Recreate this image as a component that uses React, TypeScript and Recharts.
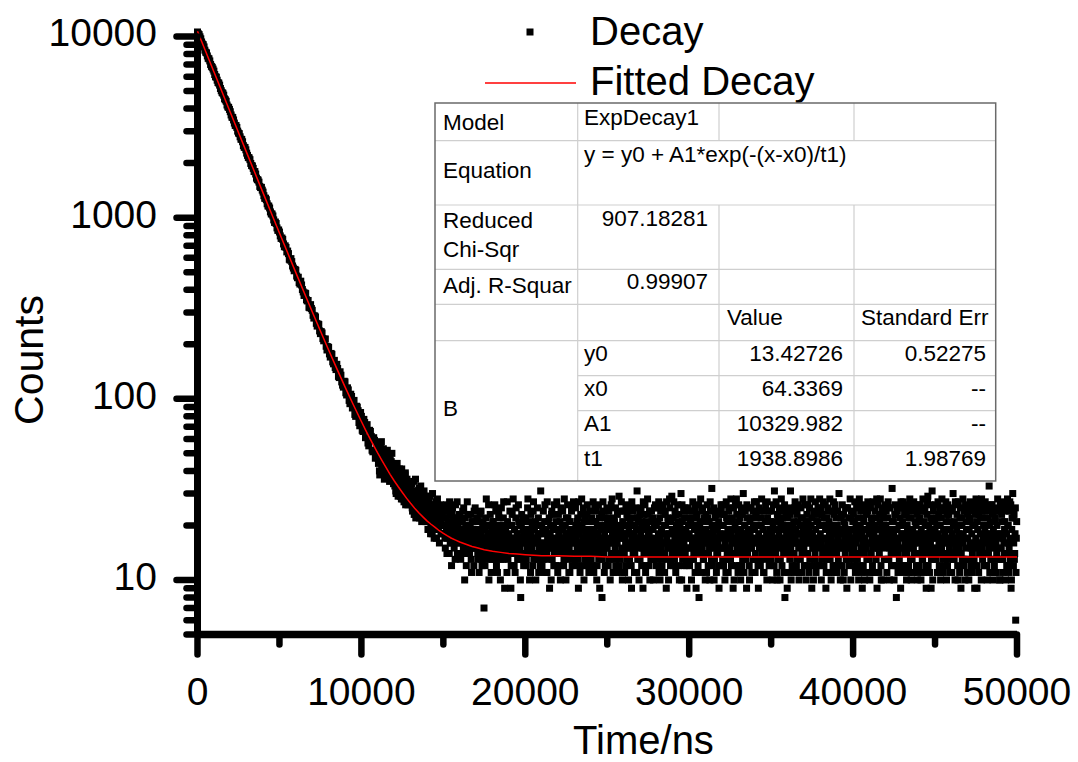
import React from 'react';
import { ComposedChart, Scatter, XAxis, YAxis } from 'recharts';

const FONT = '"Liberation Sans", Arial, sans-serif';

// measured counts on the fast part of the decay, every 100 ns from t = 0
const decayStep = 100;
const decayCounts = [
  10590, 10240, 9710, 9085, 8760, 8190, 7810, 7530, 7010, 6760,
  6440, 5990, 5738, 5530, 5163, 4902, 4745, 4471, 4186, 4060,
  3844, 3587, 3462, 3230, 3148, 2931, 2795, 2702, 2497, 2440,
  2271, 2149, 2090, 1938, 1871, 1796, 1652, 1611, 1488, 1470,
  1384, 1279, 1256, 1160, 1131, 1049, 1022, 941, 928, 851,
  833, 768, 759, 691, 685, 654, 589, 594, 541, 509,
  512, 466, 438, 446, 401, 372, 381, 347, 320, 331,
  308, 279, 283, 252, 257, 229, 231, 209, 214, 186,
  192, 170, 176, 156, 149, 155, 133, 141, 124, 116,
  124, 105, 112, 94, 103, 97, 82, 91, 86, 71,
  80, 66, 74, 69, 57, 67, 62, 51, 59, 48,
];
// the channels in between (t = 50, 150, 250 ...)
const decayCountsB = [
  10350, 9960, 9330, 9010, 8405, 8120, 7580, 7330, 6840, 6610,
  6170, 5965, 5570, 5390, 5020, 4862, 4530, 4389, 4085, 3958,
  3690, 3570, 3328, 3222, 3004, 2908, 2711, 2624, 2445, 2369,
  2207, 2138, 1992, 1929, 1798, 1741, 1623, 1571, 1466, 1419,
  1322, 1281, 1193, 1158, 1076, 1047, 972, 946, 878, 855,
  793, 772, 716, 699, 647, 633, 583, 572, 527, 518,
  476, 469, 430, 425, 389, 384, 352, 349, 318, 315,
  289, 287, 261, 259, 237, 235, 215, 213, 195, 194,
  177, 178, 160, 163, 145, 147, 131, 135, 119, 125,
  108, 115, 98, 106, 89, 98, 80, 90, 74, 84,
  67, 77, 61, 72, 55, 66, 52, 61, 47, 56,
];

// noisy background tail, every 40 ns from 11000 ns (25 per row = 1000 ns)
const tailStart = 11000;
const tailStep = 40;
const tailCounts = [
  52, 44, 49, 38, 55, 46, 41, 50, 43, 47, 36, 45, 51, 40, 44, 39, 48, 42, 35, 46, 41, 37, 44, 40, 34,
  39, 33, 42, 30, 36, 38, 29, 35, 41, 32, 34, 28, 37, 31, 36, 27, 33, 39, 30, 32, 35, 26, 31, 34, 29,
  33, 27, 30, 24, 28, 35, 25, 29, 22, 31, 26, 28, 23, 32, 27, 25, 29, 21, 26, 30, 24, 27, 22, 28, 25,
  27, 21, 25, 19, 23, 29, 20, 24, 18, 26, 22, 17, 25, 21, 23, 19, 28, 20, 22, 16, 24, 21, 18, 23, 20,
  24, 18, 22, 15, 20, 26, 17, 21, 19, 14, 23, 18, 20, 16, 25, 19, 17, 22, 13, 20, 18, 27, 16, 21, 19,
  22, 16, 19, 14, 21, 17, 25, 15, 18, 20, 12, 19, 16, 23, 17, 14, 20, 18, 11, 21, 16, 19, 24, 15, 17,
  19, 15, 21, 13, 17, 16, 23, 14, 18, 12, 20, 16, 7, 19, 15, 22, 17, 13, 18, 26, 14, 16, 20, 11, 17,
  16, 21, 13, 18, 15, 24, 12, 17, 19, 14, 22, 16, 10, 18, 15, 20, 13, 27, 17, 14, 19, 16, 11, 21, 15,
  18, 14, 20, 9, 16, 23, 15, 17, 12, 19, 16, 25, 14, 18, 13, 21, 17, 15, 8, 20, 16, 13, 22, 18, 14,
  17, 12, 19, 15, 28, 16, 14, 21, 11, 18, 15, 17, 24, 13, 19, 16, 10, 20, 14, 17, 22, 15, 18, 12, 16,
  20, 15, 13, 18, 16, 26, 14, 19, 11, 17, 21, 15, 9, 18, 16, 23, 13, 17, 20, 14, 16, 12, 19, 27, 15,
  14, 18, 16, 21, 12, 17, 15, 24, 19, 13, 16, 20, 10, 18, 14, 22, 17, 15, 11, 19, 16, 25, 13, 18, 17,
  16, 13, 20, 17, 15, 22, 9, 18, 14, 19, 16, 28, 12, 17, 21, 15, 13, 18, 16, 23, 14, 19, 11, 17, 15,
  19, 16, 12, 21, 17, 14, 25, 15, 18, 10, 20, 16, 13, 22, 17, 15, 19, 8, 16, 24, 14, 18, 12, 20, 16,
  15, 22, 17, 13, 19, 16, 26, 14, 18, 11, 17, 21, 15, 12, 20, 16, 18, 14, 29, 17, 13, 19, 15, 10, 18,
  17, 14, 20, 16, 12, 23, 18, 15, 19, 13, 21, 16, 9, 17, 24, 15, 18, 14, 20, 16, 11, 22, 17, 15, 19,
  13, 18, 16, 21, 15, 27, 14, 19, 17, 12, 20, 16, 23, 15, 18, 10, 17, 14, 21, 16, 19, 13, 25, 15, 17,
  20, 16, 14, 18, 11, 22, 17, 15, 19, 13, 16, 24, 18, 14, 20, 9, 17, 15, 21, 16, 28, 13, 18, 15, 19,
  16, 12, 19, 17, 23, 15, 18, 14, 21, 16, 10, 20, 15, 17, 26, 13, 18, 16, 22, 14, 19, 12, 17, 15, 20,
  18, 15, 21, 13, 17, 16, 24, 14, 19, 11, 17, 22, 15, 18, 16, 8, 20, 14, 17, 25, 15, 19, 13, 16, 21,
  14, 19, 16, 22, 12, 18, 15, 27, 17, 13, 20, 16, 18, 10, 15, 23, 17, 14, 19, 16, 21, 12, 18, 15, 24,
  17, 13, 20, 15, 18, 16, 11, 22, 14, 19, 17, 25, 15, 13, 18, 16, 21, 9, 17, 14, 20, 16, 28, 15, 18,
  15, 21, 17, 14, 19, 12, 23, 16, 18, 15, 20, 13, 17, 26, 14, 19, 16, 10, 18, 22, 15, 17, 13, 20, 16,
  19, 14, 17, 22, 16, 12, 18, 15, 24, 13, 20, 17, 15, 19, 11, 16, 21, 14, 18, 27, 15, 17, 12, 19, 16,
  13, 18, 16, 20, 15, 31, 17, 14, 19, 10, 16, 22, 18, 15, 13, 21, 17, 16, 24, 14, 19, 8, 17, 15, 20,
  16, 19, 14, 17, 23, 15, 18, 12, 20, 16, 14, 25, 17, 19, 13, 16, 21, 15, 11, 18, 16, 22, 14, 17, 19,
  15, 12, 18, 21, 16, 14, 26, 17, 19, 13, 16, 20, 9, 18, 15, 23, 17, 14, 19, 16, 12, 21, 17, 15, 28,
  18, 16, 13, 20, 17, 15, 22, 14, 19, 11, 17, 16, 24, 15, 18, 13, 20, 17, 14, 16, 27, 19, 15, 12, 18,
  14, 20, 17, 16, 12, 19, 15, 23, 18, 16, 10, 21, 17, 14, 19, 15, 25, 16, 13, 18, 17, 22, 15, 19, 16,
  17, 15, 21, 13, 18, 16, 26, 14, 19, 17, 12, 20, 15, 18, 9, 16, 22, 14, 17, 19, 15, 13, 24, 16, 18,
  16, 19, 14, 22, 17, 15, 11, 18, 16, 20, 13, 28, 17, 15, 19, 14, 21, 16, 10, 18, 17, 23, 15, 19, 13,
  20, 16, 18, 13, 17, 25, 15, 19, 14, 16, 21, 12, 18, 17, 15, 23, 8, 19, 16, 14, 20, 17, 15, 27, 18,
  15, 18, 12, 20, 16, 17, 23, 14, 19, 15, 11, 18, 16, 22, 17, 13, 19, 15, 26, 16, 14, 20, 17, 10, 18,
  16, 21, 14, 17, 19, 15, 13, 24, 18, 16, 20, 12, 17, 15, 29, 18, 14, 19, 16, 9, 21, 17, 15, 18, 13,
  19, 15, 17, 22, 14, 18, 16, 11, 20, 17, 15, 25, 13, 19, 16, 18, 14, 21, 17, 12, 16, 23, 15, 19, 17,
  14, 18, 16, 20, 13, 17, 27, 15, 19, 16, 10, 18, 15, 22, 17, 14, 20, 16, 18, 13, 24, 17, 15, 19, 11,
  17, 13, 19, 16, 21, 15, 18, 14, 25, 16, 12, 20, 17, 15, 9, 19, 16, 23, 14, 18, 16, 28, 15, 17, 20,
  16, 19, 14, 18, 12, 22, 17, 15, 20, 16, 13, 18, 26, 15, 19, 17, 11, 21, 16, 14, 18, 15, 24, 17, 10,
  18, 15, 21, 13, 17, 16, 19, 24, 14, 18, 12, 20, 16, 15, 27, 17, 9, 19, 14, 22, 16, 13, 18, 6, 17,
];
// the channels in between (t = 11020, 11060 ...)
const tailCountsB = [
  47, 55, 40, 50, 45, 58, 39, 48, 53, 42, 46, 37, 49, 44, 52, 38, 43, 47, 41, 36, 45, 50, 38, 42, 37,
  35, 40, 31, 37, 44, 33, 30, 38, 34, 29, 36, 41, 31, 28, 35, 33, 38, 26, 32, 36, 30, 34, 27, 33, 31,
  29, 34, 25, 31, 27, 23, 30, 36, 26, 28, 24, 31, 27, 22, 29, 33, 25, 28, 23, 26, 31, 24, 29, 21, 27,
  24, 19, 28, 22, 26, 18, 25, 21, 30, 23, 19, 24, 20, 27, 17, 22, 25, 19, 23, 21, 26, 18, 24, 20, 22,
  20, 25, 17, 22, 19, 14, 24, 18, 21, 27, 16, 20, 12, 23, 18, 21, 15, 19, 26, 17, 22, 14, 20, 18, 23,
  18, 13, 21, 17, 24, 15, 19, 10, 22, 16, 18, 27, 14, 20, 17, 15, 23, 13, 19, 16, 21, 12, 18, 25, 15,
  16, 22, 14, 19, 11, 18, 15, 24, 13, 17, 21, 15, 19, 12, 17, 28, 14, 20, 16, 10, 18, 23, 15, 19, 13,
  21, 14, 18, 26, 13, 17, 20, 11, 16, 23, 15, 19, 13, 25, 17, 14, 22, 16, 9, 18, 20, 15, 27, 13, 17,
  15, 24, 17, 12, 20, 16, 28, 14, 19, 11, 22, 15, 18, 13, 26, 16, 20, 10, 17, 23, 14, 19, 12, 21, 16,
  22, 13, 17, 25, 14, 19, 10, 18, 23, 15, 20, 12, 27, 16, 14, 21, 17, 13, 25, 18, 11, 20, 15, 31, 14,
  12, 19, 24, 15, 21, 11, 18, 14, 27, 16, 13, 22, 17, 20, 10, 24, 15, 19, 12, 26, 17, 14, 21, 16, 11,
  23, 15, 19, 10, 25, 14, 20, 17, 12, 28, 15, 18, 22, 13, 26, 16, 11, 21, 14, 19, 24, 12, 17, 27, 14,
  19, 25, 12, 21, 16, 13, 27, 18, 11, 23, 15, 20, 14, 25, 10, 19, 22, 16, 12, 26, 17, 21, 13, 24, 18,
  13, 22, 17, 27, 11, 19, 15, 21, 24, 12, 18, 26, 14, 9, 20, 16, 23, 13, 27, 17, 11, 22, 15, 19, 25,
  21, 12, 24, 16, 10, 20, 14, 28, 17, 22, 13, 19, 25, 11, 16, 23, 14, 20, 12, 24, 18, 27, 11, 21, 14,
  24, 11, 17, 26, 20, 13, 22, 10, 25, 15, 18, 12, 27, 20, 14, 22, 11, 25, 16, 19, 31, 13, 21, 10, 23,
  17, 25, 12, 20, 9, 23, 16, 26, 11, 21, 14, 28, 18, 12, 24, 19, 13, 24, 15, 22, 10, 20, 14, 26, 12,
  25, 13, 21, 27, 15, 10, 24, 19, 12, 26, 14, 20, 11, 23, 16, 27, 13, 22, 10, 18, 25, 12, 21, 29, 14,
  22, 27, 13, 24, 11, 20, 16, 26, 12, 23, 19, 14, 30, 10, 21, 17, 24, 12, 25, 15, 22, 9, 25, 13, 20,
  12, 24, 17, 10, 22, 27, 13, 20, 25, 15, 9, 23, 19, 12, 26, 14, 21, 28, 11, 18, 24, 13, 22, 17, 10,
  23, 11, 26, 18, 14, 21, 10, 24, 16, 32, 12, 19, 25, 13, 22, 17, 11, 24, 14, 20, 9, 23, 15, 26, 12,
  20, 26, 12, 23, 10, 17, 27, 13, 21, 11, 24, 15, 19, 28, 12, 22, 14, 25, 10, 19, 26, 12, 23, 16, 11,
  26, 12, 22, 10, 25, 18, 13, 30, 11, 20, 24, 14, 9, 22, 17, 25, 12, 21, 15, 25, 11, 19, 24, 13, 27,
  11, 23, 27, 13, 20, 9, 25, 16, 12, 22, 28, 14, 19, 11, 24, 13, 26, 17, 10, 22, 15, 24, 12, 21, 14,
  24, 14, 10, 26, 12, 21, 17, 27, 11, 23, 13, 19, 25, 10, 20, 28, 12, 22, 15, 11, 26, 14, 23, 18, 9,
  22, 11, 25, 13, 31, 10, 19, 24, 14, 21, 11, 27, 16, 12, 23, 18, 26, 10, 20, 13, 25, 11, 22, 28, 14,
  12, 26, 20, 10, 23, 14, 21, 11, 25, 18, 28, 12, 22, 15, 10, 24, 13, 27, 11, 21, 16, 25, 12, 20, 23,
  25, 10, 23, 14, 27, 12, 20, 26, 9, 22, 13, 25, 11, 21, 28, 14, 10, 24, 19, 12, 23, 11, 26, 15, 22,
  11, 24, 13, 30, 19, 10, 22, 12, 26, 15, 23, 11, 20, 25, 13, 9, 25, 18, 12, 22, 28, 10, 24, 14, 21,
  23, 12, 27, 11, 20, 25, 13, 22, 10, 28, 14, 24, 11, 19, 26, 12, 21, 10, 25, 15, 23, 11, 27, 13, 20,
  10, 25, 14, 21, 12, 27, 19, 11, 24, 13, 22, 9, 26, 15, 11, 23, 28, 12, 20, 25, 10, 22, 13, 26, 17,
  24, 11, 22, 27, 13, 10, 25, 18, 12, 32, 14, 21, 10, 23, 26, 12, 19, 24, 11, 25, 13, 22, 9, 25, 12,
  21, 27, 11, 23, 14, 25, 10, 20, 26, 12, 22, 28, 13, 10, 24, 18, 11, 27, 14, 21, 25, 12, 23, 11, 26,
  12, 22, 26, 10, 24, 13, 28, 11, 21, 25, 14, 9, 23, 27, 12, 20, 11, 26, 22, 13, 31, 10, 24, 14, 21,
  26, 13, 20, 11, 27, 23, 12, 25, 10, 22, 28, 14, 11, 24, 19, 12, 27, 10, 23, 26, 13, 21, 11, 25, 14,
  11, 24, 30, 13, 21, 10, 26, 14, 23, 12, 27, 20, 11, 25, 9, 22, 13, 28, 12, 24, 10, 26, 21, 13, 23,
  25, 10, 22, 27, 12, 24, 11, 20, 26, 13, 9, 23, 28, 12, 21, 25, 11, 27, 14, 22, 10, 24, 13, 26, 12,
  22, 27, 12, 24, 10, 25, 14, 33, 11, 21, 26, 13, 23, 10, 24, 12, 22, 25, 11, 20, 28, 13, 24, 10, 26,
  13, 23, 26, 11, 27, 14, 21, 10, 25, 12, 28, 20, 11, 24, 13, 26, 10, 22, 30, 12, 23, 14, 25, 11, 21,
];

// ExpDecay1 fit
const fitTimes = [
  0, 500, 1000, 1500, 2000, 2500, 3000, 3500, 4000, 4500,
  5000, 5500, 6000, 6500, 7000, 7500, 8000, 8500, 9000, 9500,
  10000, 10250, 10500, 10750, 11000, 11250, 11500, 11750, 12000, 12250,
  12500, 12750, 13000, 13250, 13500, 13750, 14000, 14250, 14500, 14750,
  15000, 15250, 15500, 15750, 16000, 16250, 16500, 16750, 17000, 17500,
  18000, 18500, 19000, 19500, 20000, 21000, 22000, 23000, 24000, 25000,
  30000, 40000, 50000,
];
const fitCounts = [
  10692, 8264.6, 6389, 4939.7, 3819.9, 2954.7, 2286.1, 1769.5, 1370.4, 1061.9,
  823.6, 639.5, 497.2, 387.2, 302.3, 236.6, 185.9, 146.7, 116.4, 93,
  74.9, 67.4, 60.9, 55.2, 50.1, 45.7, 41.8, 38.3, 35.3, 32.7,
  30.4, 28.3, 26.5, 24.9, 23.5, 22.3, 21.2, 20.3, 19.5, 18.7,
  18.1, 17.5, 17, 16.6, 16.2, 15.9, 15.6, 15.3, 15.1, 14.7,
  14.4, 14.2, 14, 13.9, 13.8, 13.6, 13.6, 13.5, 13.5, 13.4,
  13.4, 13.4, 13.4,
];

const yTicks = [
  5, 6, 7, 8, 9, 10, 20, 30, 40, 50, 60, 70, 80, 90,
  100, 200, 300, 400, 500, 600, 700, 800, 900,
  1000, 2000, 3000, 4000, 5000, 6000, 7000, 8000, 9000, 10000,
];
const yMajor = [10, 100, 1000, 10000];
const xTicks = [0, 5000, 10000, 15000, 20000, 25000, 30000, 35000, 40000, 45000, 50000];
const xMajor = [0, 10000, 20000, 30000, 40000, 50000];

// fit report table
const paramNames = ['y0', 'x0', 'A1', 't1'];
const paramValues = ['13.42726', '64.3369', '10329.982', '1938.8986'];
const paramErrors = ['0.52275', '--', '--', '1.98769'];

const decayData = [
  ...decayCounts.map((v, i) => ({ t: i * decayStep, v })),
  ...decayCountsB.map((v, i) => ({ t: 50 + i * decayStep, v })),
  ...tailCounts.map((v, i) => ({ t: tailStart + i * tailStep, v })),
  ...tailCountsB.map((v, i) => ({ t: tailStart + 20 + i * tailStep, v })),
];
const fitData = fitTimes.map((t, i) => ({ t, v: fitCounts[i] }));

const YTick = (props: any) => {
  const { x, y, payload } = props;
  const major = yMajor.includes(payload.value);
  return (
    <g>
      <line x1={x - (major ? 21 : 11)} x2={x} y1={y} y2={y} stroke="#000" strokeWidth={6.5} strokeLinecap="round" />
      {major && (
        <text x={x - 40.5} y={y + 10} textAnchor="end" fontSize={39} fontFamily={FONT} fill="#000">
          {payload.value}
        </text>
      )}
    </g>
  );
};

const XTick = (props: any) => {
  const { x, y, payload } = props;
  const major = xMajor.includes(payload.value);
  return (
    <g>
      <line x1={x} x2={x} y1={y} y2={y + (major ? 20 : 10)} stroke="#000" strokeWidth={6.5} strokeLinecap="round" />
      {major && (
        <text x={x} y={y + 70.5} textAnchor="middle" fontSize={39} fontFamily={FONT} fill="#000">
          {payload.value}
        </text>
      )}
    </g>
  );
};

const Square = (props: any) => (
  <rect x={props.cx - 3.5} y={props.cy - 3.5} width={7} height={7} fill="#000" />
);
const NoMark = () => <g />;

const colX = [435, 577.7, 719, 854, 995.7];
const rowY = [103, 140.7, 205, 269.3, 304.3, 340.7, 375.7, 410.7, 445.7, 481];

function FitTable() {
  const grid = '#cfcfcf';
  const txt = { fontSize: 22.5, fontFamily: FONT, fill: '#000' };
  return (
    <g>
      <rect x={colX[0]} y={rowY[0]} width={colX[4] - colX[0]} height={rowY[9] - rowY[0]} fill="#fff" />
      {rowY.slice(1, 6).map((y) => (
        <line key={'h' + y} x1={colX[0]} x2={colX[4]} y1={y} y2={y} stroke={grid} strokeWidth={1.2} />
      ))}
      {rowY.slice(6, 9).map((y) => (
        <line key={'p' + y} x1={colX[1]} x2={colX[4]} y1={y} y2={y} stroke={grid} strokeWidth={1.2} />
      ))}
      <line x1={colX[1]} x2={colX[1]} y1={rowY[0]} y2={rowY[9]} stroke={grid} strokeWidth={1.2} />
      {[colX[2], colX[3]].map((x) => (
        <g key={'v' + x}>
          <line x1={x} x2={x} y1={rowY[0]} y2={rowY[1]} stroke={grid} strokeWidth={1.2} />
          <line x1={x} x2={x} y1={rowY[2]} y2={rowY[9]} stroke={grid} strokeWidth={1.2} />
        </g>
      ))}
      <rect x={colX[0]} y={rowY[0]} width={colX[4] - colX[0]} height={rowY[9] - rowY[0]} fill="none" stroke="#6a6a6a" strokeWidth={1.5} />

      <text x={443} y={130} {...txt}>Model</text>
      <text x={584} y={125} {...txt}>ExpDecay1</text>
      <text x={443} y={178} {...txt}>Equation</text>
      <text x={584} y={162} {...txt}>y = y0 + A1*exp(-(x-x0)/t1)</text>
      <text x={443} y={228} {...txt}>Reduced</text>
      <text x={443} y={257} {...txt}>Chi-Sqr</text>
      <text x={708} y={225.5} textAnchor="end" {...txt}>907.18281</text>
      <text x={443} y={293} {...txt}>Adj. R-Squar</text>
      <text x={708} y={289} textAnchor="end" {...txt}>0.99907</text>
      <text x={727} y={325} {...txt}>Value</text>
      <text x={861} y={325} {...txt}>Standard Err</text>
      <text x={443} y={416} {...txt}>B</text>
      {paramNames.map((n, i) => (
        <g key={n}>
          <text x={584} y={rowY[5 + i] + 20} {...txt}>{n}</text>
          <text x={843} y={rowY[5 + i] + 20} textAnchor="end" {...txt}>{paramValues[i]}</text>
          <text x={986} y={rowY[5 + i] + 20} textAnchor="end" {...txt}>{paramErrors[i]}</text>
        </g>
      ))}
    </g>
  );
}

export default function App() {
  return (
    <div style={{ position: 'absolute', left: 0, top: 0, width: 1078, height: 762, background: '#fff' }}>
      <ComposedChart
        width={1078}
        height={762}
        margin={{ top: 29, right: 61, left: 47.5, bottom: 67.5 }}
      >
        <XAxis
          type="number"
          dataKey="t"
          domain={[0, 50000]}
          ticks={xTicks}
          interval={0}
          height={60}
          tickSize={0}
          tickMargin={0}
          tickLine={false}
          axisLine={{ stroke: '#000', strokeWidth: 7.5 }}
          tick={<XTick />}
        />
        <YAxis
          type="number"
          dataKey="v"
          scale="log"
          domain={[5, 11000]}
          ticks={yTicks}
          interval={0}
          width={150}
          tickSize={0}
          tickMargin={0}
          tickLine={false}
          axisLine={{ stroke: '#000', strokeWidth: 7 }}
          tick={<YTick />}
        />
        <Scatter data={decayData} fill="#000" shape={<Square />} isAnimationActive={false} />
        <Scatter
          data={fitData}
          shape={<NoMark />}
          line={{ stroke: '#ff0000', strokeWidth: 1.5 }}
          lineType="joint"
          isAnimationActive={false}
        />
      </ComposedChart>

      <svg
        width={1078}
        height={762}
        style={{ position: 'absolute', left: 0, top: 0, pointerEvents: 'none' }}
      >
        {/* legend */}
        <rect x={526.5} y={28.5} width={7} height={7} fill="#000" />
        <text x={590} y={45} fontSize={40} fontFamily={FONT} fill="#000">Decay</text>
        <line x1={485} x2={576} y1={83} y2={83} stroke="#ff0000" strokeWidth={1.5} />
        <text x={590} y={95} fontSize={40} fontFamily={FONT} fill="#000">Fitted Decay</text>

        <FitTable />

        {/* axis titles */}
        <text x={643.5} y={753.5} textAnchor="middle" fontSize={40} fontFamily={FONT} fill="#000">Time/ns</text>
        <text
          transform="translate(43.3, 360) rotate(-90)"
          textAnchor="middle"
          fontSize={41}
          fontFamily={FONT}
          fill="#000"
        >
          Counts
        </text>
      </svg>
    </div>
  );
}
